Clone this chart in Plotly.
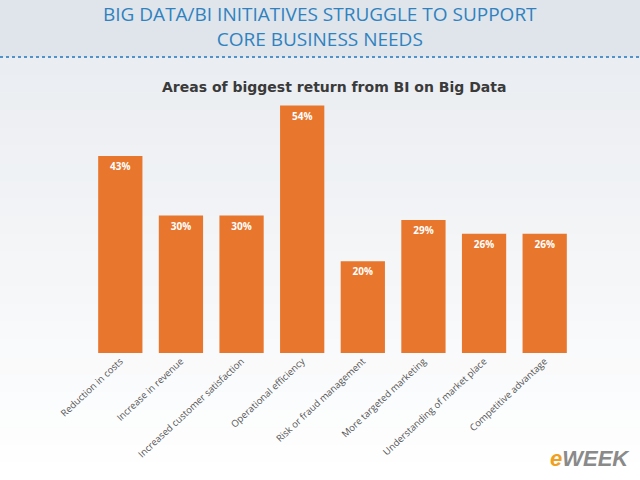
import plotly.graph_objects as go

categories = ["Reduction in costs", "Increase in revenue", "Increased customer satisfaction",
              "Operational efficiency", "Risk or fraud management", "More targeted marketing",
              "Understanding of market place", "Competitive advantage"]
values = [43, 30, 30, 54, 20, 29, 26, 26]
labels = [f"<b>{v}%</b>" for v in values]

W, H = 640, 480
ml, mr, mt, mb = 90, 65, 78, 127
pw, ph = W - ml - mr, H - mt - mb

def px(x):
    return (x - ml) / pw

def py(y):
    return 1 - (y - mt) / ph

# background gradient bands (decoration)
shapes = [dict(type="rect", xref="paper", yref="paper", x0=px(0), x1=px(W),
               y0=py(57), y1=py(0), fillcolor="#dfe5eb", line=dict(width=0), layer="below")]
n = 24
top, bot = 57, H
c0, c1 = (234, 237, 241), (255, 255, 255)
for i in range(n):
    t = i / (n - 1)
    c = tuple(int(round(a + (b - a) * t)) for a, b in zip(c0, c1))
    y0 = top + (bot - top) * i / n
    y1 = top + (bot - top) * (i + 1) / n
    shapes.append(dict(type="rect", xref="paper", yref="paper", x0=px(0), x1=px(W),
                       y0=py(y1 + 0.5), y1=py(y0), fillcolor="rgb(%d,%d,%d)" % c,
                       line=dict(width=0), layer="below"))
shapes.append(dict(type="line", xref="paper", yref="paper", x0=px(0), x1=px(W),
                   y0=py(57), y1=py(57), line=dict(color="#4f93c8", width=2, dash="dot")))

fig = go.Figure()
fig.add_trace(go.Bar(
    x=categories, y=values, text=labels, textposition="inside",
    insidetextanchor="end",
    textfont=dict(family="Open Sans", size=10, color="white"),
    marker=dict(color="#e8762c", line=dict(width=0)),
    cliponaxis=False,
))

fig.update_layout(
    width=W, height=H,
    margin=dict(l=ml, r=mr, t=mt, b=mb),
    paper_bgcolor="#f3f4f6", plot_bgcolor="rgba(0,0,0,0)",
    showlegend=False, bargap=0.27,
    xaxis=dict(tickangle=-43, showgrid=False, showline=False, ticks="",
               tickfont=dict(family="Open Sans", size=9.5, color="#555555")),
    yaxis=dict(range=[0, 60], visible=False),
    shapes=shapes,
    annotations=[
        dict(text="BIG DATA/BI INITIATIVES STRUGGLE TO SUPPORT<br>CORE BUSINESS NEEDS",
             xref="paper", yref="paper", x=px(320), y=py(27),
             xanchor="center", yanchor="middle", showarrow=False,
             font=dict(family="Open Sans", size=19, color="#2f82bf")),
        dict(text="<b>Areas of biggest return from BI on Big Data</b>",
             xref="paper", yref="paper", x=px(334), y=py(87),
             xanchor="center", yanchor="middle", showarrow=False,
             font=dict(family="DejaVu Sans", size=14, color="#3a3a3a")),
        dict(text="<i><b><span style='color:#f0a020'>e</span>WEEK</b></i>",
             xref="paper", yref="paper", x=px(632), y=py(458),
             xanchor="right", yanchor="middle", showarrow=False,
             font=dict(family="Liberation Sans", size=22, color="#8a8a8a")),
    ],
)

fig.write_html("out.html")
